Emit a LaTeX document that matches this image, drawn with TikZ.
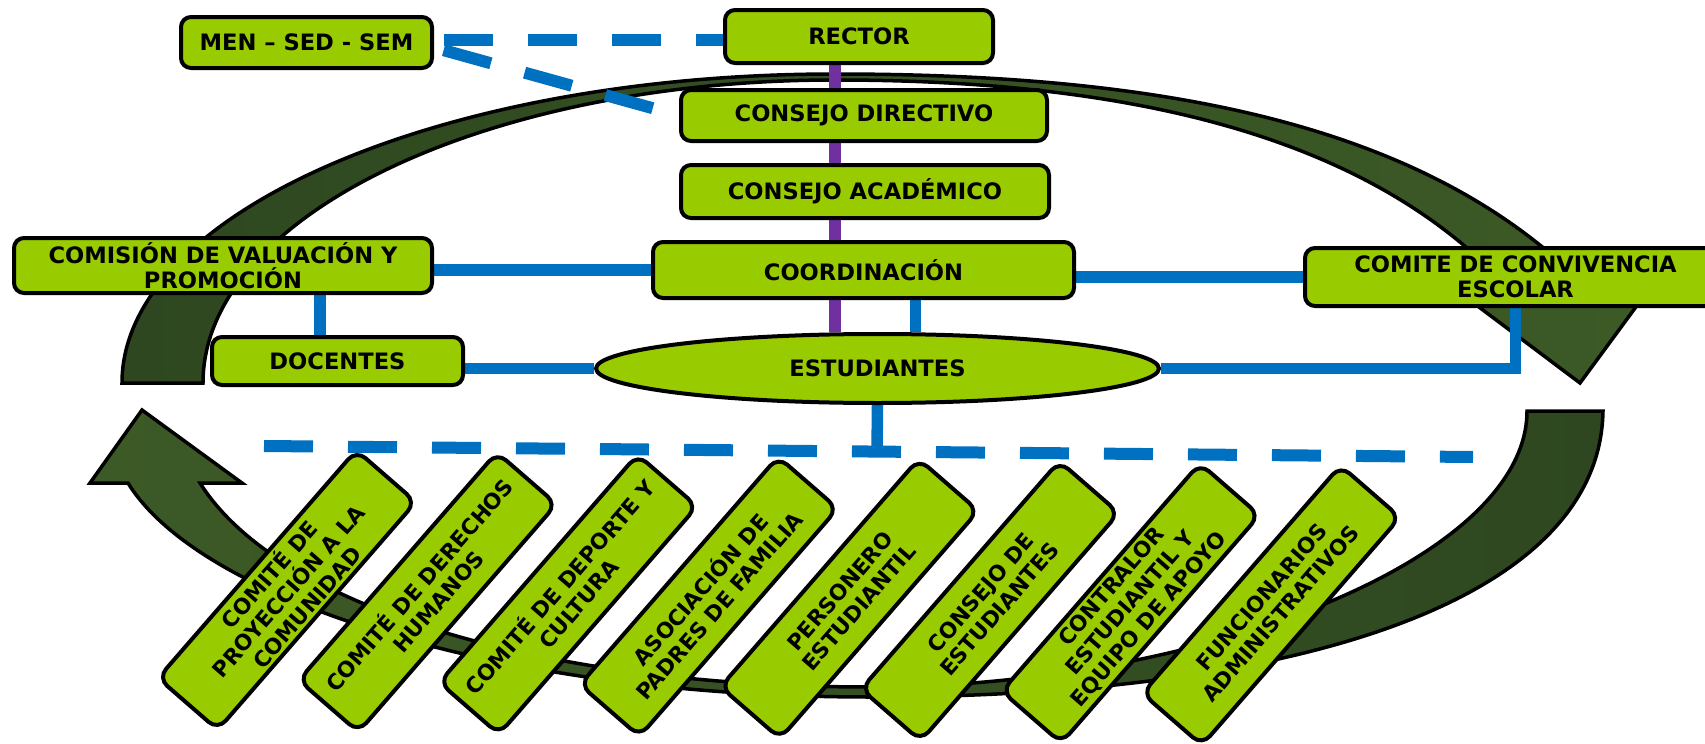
\documentclass[tikz,border=0pt]{standalone}
\usepackage{fontspec}
\setmainfont{DejaVu Sans}
\usetikzlibrary{shapes.geometric,calc}

\definecolor{verde}{HTML}{99CC00}
\definecolor{azul}{HTML}{0070C0}
\definecolor{morado}{HTML}{7030A0}
\definecolor{oscuro}{HTML}{2E4720}
\definecolor{musgo}{HTML}{3C5A26}

\pgfdeclarelayer{fondo}
\pgfdeclarelayer{lineas}
\pgfsetlayers{fondo,lineas,main}

\begin{document}
\begin{tikzpicture}[x=0.5pt,y=-0.5pt,
  box/.style={draw,line width=2pt,fill=verde,rounded corners=5pt,inner sep=0pt,align=center,font=\fontsize{11.3}{12.5}\selectfont\bfseries},
  oval/.style={ellipse,draw,line width=2pt,fill=verde,inner sep=0pt,font=\fontsize{11.3}{12.5}\selectfont\bfseries},
  slbox/.style={draw,line width=2pt,fill=verde,rounded corners=6pt,inner sep=0pt,align=center,rotate=49,minimum width=151pt,minimum height=39.5pt,font=\fontsize{10.8}{12.4}\selectfont\bfseries},
  linea/.style={draw=azul,line width=5.75pt},
  guion/.style={draw=azul,line width=6pt,dash pattern=on 24.5pt off 17.5pt},
  vertical/.style={draw=morado,line width=6pt},
  flecha/.style={draw,line width=1.75pt}]

\useasboundingbox (0,0) rectangle (1705,744);

% curved arrows
\begin{pgfonlayer}{fondo}
\path [flecha,left color=oscuro,right color=musgo] (122,383) arc[start angle=180,end angle=270,x radius=713,y radius=309] .. controls (1150,74) and (1400,120) .. (1560,262) -- (1652,285) -- (1580,383) -- (1443,280) -- (1475,255) .. controls (1330,125) and (1100,80) .. (835,80) arc[start angle=270,end angle=180,x radius=632,y radius=303] -- cycle;
\path [flecha,left color=musgo,right color=oscuro] (1527,411) -- (1603,411) .. controls (1600,600) and (1300,697) .. (870,697) .. controls (500,697) and (200,600) .. (128,483) -- (90,483) -- (142,410) -- (242,483) -- (200,483) .. controls (280,610) and (550,687) .. (870,687) .. controls (1200,687) and (1527,560) .. (1527,411) -- cycle;
\end{pgfonlayer}

\node [box,minimum width=125.5pt,minimum height=25.5pt] (men) at (306.5,42.5) {MEN – SED - SEM};
\node [box,minimum width=134pt,minimum height=26.5pt] (rector) at (859,36.5) {RECTOR};
\node [box,minimum width=183pt,minimum height=25.5pt] (cdir) at (864,115.5) {CONSEJO DIRECTIVO};
\node [box,minimum width=184pt,minimum height=26.5pt] (cacad) at (865,191.5) {CONSEJO ACADÉMICO};
\node [box,minimum width=210.5pt,minimum height=28pt] (coord) at (863.5,270) {COORDINACIÓN};
\node [box,minimum width=209pt,minimum height=27.5pt] (comision) at (223,265.5) {COMISIÓN DE VALUACIÓN Y\\PROMOCIÓN};
\node [box,minimum width=210.5pt,minimum height=29pt] (conviv) at (1515.5,277) {COMITE DE CONVIVENCIA\\ESCOLAR};
\node [box,minimum width=125.5pt,minimum height=24pt] (docentes) at (337.5,361) {DOCENTES};
\node [oval,minimum width=281.5pt,minimum height=34.5pt] (estud) at (877.5,368.5) {ESTUDIANTES};

\node [slbox] (proyeccion) at (287,590) {COMITÉ DE\\PROYECCIÓN A LA\\COMUNIDAD};
\node [slbox] (derechos) at (427.6,592.2) {COMITÉ DE DERECHOS\\HUMANOS};
\node [slbox] (deporte) at (568.2,594.4) {COMITÉ DE DEPORTE Y\\CULTURA};
\node [slbox] (padres) at (708.8,596.6) {ASOCIACIÓN DE\\PADRES DE FAMILIA};
\node [slbox] (personero) at (849.4,598.8) {PERSONERO\\ESTUDIANTIL};
\node [slbox] (cestud) at (990,601) {CONSEJO DE\\ESTUDIANTES};
\node [slbox] (contralor) at (1130.6,603.2) {CONTRALOR\\ESTUDIANTIL Y\\EQUIPO DE APOYO};
\node [slbox] (funcion) at (1271.2,605.4) {FUNCIONARIOS\\ADMINISTRATIVOS};

\coordinate (izq) at (264,446);
\coordinate (der) at (1473,457);

\begin{pgfonlayer}{lineas}
\draw [guion,dash phase=37pt] ([yshift=1.5pt]men.east) -- ([yshift=1.5pt]men.east -| rector.west);
\draw [guion,dash phase=37pt] ([yshift=-2.5pt]men.east) -- (cdir.west);
\draw [vertical] ([xshift=-12pt]rector.south) -- ([xshift=-12pt]rector.south |- estud.north);
\draw [linea] (coord.west -| comision.east) -- (coord.west);
\draw [linea] (conviv.west -| coord.east) -- (conviv.west);
\draw [linea] ([xshift=-8.75pt]docentes.north) -- ([xshift=-8.75pt]docentes.north |- comision.south);
\draw [linea] ([xshift=26pt]coord.south) -- ([xshift=26pt]coord.south |- estud.north);
\draw [linea] (estud.west -| docentes.east) -- (estud.west);
\draw [linea] (estud.east) -| (conviv.south);
\draw [guion] (izq) -- (der);
\draw [linea] (estud.south) -- ($(izq)!(estud.south)!(der)$);
\end{pgfonlayer}

\end{tikzpicture}
\end{document}
